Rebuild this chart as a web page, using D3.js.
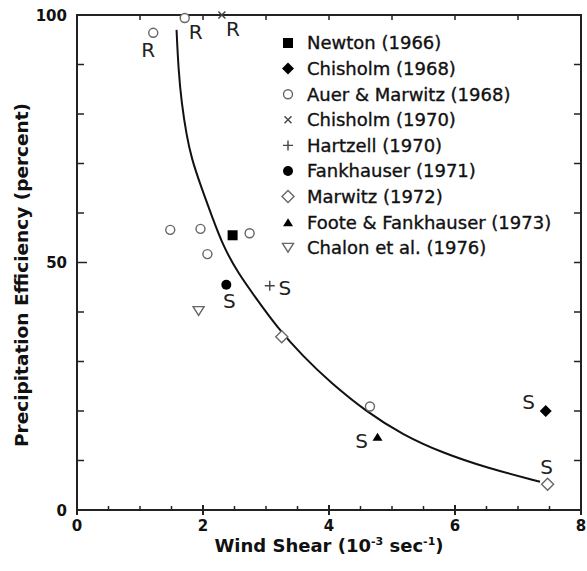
<!DOCTYPE html>
<html>
<head>
<meta charset="utf-8">
<script src="https://cdn.jsdelivr.net/npm/d3@7"></script>
<style>
  body { margin: 0; background: #fff; }
  svg { display: block; font-family: "DejaVu Sans", sans-serif; }
</style>
</head>
<body>
<div id="chart"></div>
<script>
// data (x = wind shear, y = efficiency %)
var studies = ["Newton (1966)", "Chisholm (1968)", "Auer & Marwitz (1968)", "Chisholm (1970)",
  "Hartzell (1970)", "Fankhauser (1971)", "Marwitz (1972)", "Foote & Fankhauser (1973)", "Chalon et al. (1976)"];

var newton = [[2.47, 55.5]];
var chisholm68 = [[7.44, 20.0]];
var auerMarwitz = [[1.21, 96.4], [1.71, 99.4], [1.48, 56.6], [1.96, 56.8], [2.07, 51.7], [2.74, 55.9], [4.65, 20.9]];
var chisholm70 = [[2.3, 100]];
var hartzell = [[3.06, 45.3]];
var fankhauser = [[2.37, 45.5]];
var marwitz = [[3.25, 35.0], [7.47, 5.2]];
var footeFankhauser = [[4.77, 14.8]];
var chalon = [[1.93, 40.2]];

var seriesPoints = [newton, chisholm68, auerMarwitz, chisholm70, hartzell, fankhauser, marwitz, footeFankhauser, chalon];

// fitted curve
var curveX = [1.58, 1.61, 1.66, 1.74, 1.82, 1.95, 2.14, 2.32, 2.56, 2.83, 3.17, 3.59, 4.02, 4.60, 5.17, 5.81, 6.51, 7.35];
var curveY = [97.0, 89.0, 82.2, 75.6, 71.0, 66.0, 59.4, 53.3, 47.8, 43.0, 37.0, 31.0, 25.8, 19.8, 15.2, 11.5, 8.5, 5.7];

// R / S notes next to some points
var noteText = ["R", "R", "R", "S", "S", "S", "S", "S"];
var noteX = [1.21, 1.71, 2.3, 2.37, 3.06, 4.77, 7.44, 7.47];
var noteY = [96.4, 99.4, 100, 45.5, 45.3, 14.8, 20.0, 5.2];
var noteSide = ["belowLeft", "belowRight", "belowRight", "below", "right", "left", "aboveLeft", "above"];

var xTicks = [0, 2, 4, 6, 8];
var yTicks = [0, 50, 100];

var width = 587, height = 571;
var svg = d3.select("#chart").append("svg")
  .attr("width", width)
  .attr("height", height);

var x = d3.scaleLinear().domain([0, 8]).range([77, 581]);
var y = d3.scaleLinear().domain([0, 100]).range([510, 15]);

// custom marker shapes (size = half width in px)
var squareSym = { draw: function(c, r) { c.rect(-r, -r, 2 * r, 2 * r); } };
var diamondSym = { draw: function(c, r) { c.moveTo(0, -r); c.lineTo(r, 0); c.lineTo(0, r); c.lineTo(-r, 0); c.closePath(); } };
var circleSym = { draw: function(c, r) { c.moveTo(r, 0); c.arc(0, 0, r, 0, 2 * Math.PI); } };
var plusSym = { draw: function(c, r) { c.moveTo(-r, 0); c.lineTo(r, 0); c.moveTo(0, -r); c.lineTo(0, r); } };
var crossSym = { draw: function(c, r) { c.moveTo(-r, -r); c.lineTo(r, r); c.moveTo(-r, r); c.lineTo(r, -r); } };
var triUpSym = { draw: function(c, r) { c.moveTo(0, -r * 0.8); c.lineTo(r, r * 0.8); c.lineTo(-r, r * 0.8); c.closePath(); } };
var triDownSym = { draw: function(c, r) { c.moveTo(-r, -r * 0.8); c.lineTo(r, -r * 0.8); c.lineTo(0, r * 0.8); c.closePath(); } };

var markers = [
  { type: squareSym, r: 5, fill: "#000", stroke: "none" },
  { type: diamondSym, r: 6, fill: "#000", stroke: "none" },
  { type: circleSym, r: 4.5, fill: "#fff", stroke: "#666" },
  { type: crossSym, r: 3.5, fill: "none", stroke: "#444" },
  { type: plusSym, r: 5, fill: "none", stroke: "#444" },
  { type: circleSym, r: 5, fill: "#000", stroke: "none" },
  { type: diamondSym, r: 6, fill: "#fff", stroke: "#666" },
  { type: triUpSym, r: 5, fill: "#000", stroke: "none" },
  { type: triDownSym, r: 5.5, fill: "#fff", stroke: "#666" }
];

function drawMarker(sel, m) {
  sel.attr("d", d3.symbol().type(m.type).size(m.r))
    .attr("fill", m.fill)
    .attr("stroke", m.stroke)
    .attr("stroke-width", 1.4);
}

// frame
var frame = svg.append("g").attr("stroke", "#222").attr("stroke-width", 2);
frame.append("rect")
  .attr("x", x(0)).attr("y", y(100))
  .attr("width", x(8) - x(0)).attr("height", y(0) - y(100))
  .attr("fill", "none");

// bottom ticks: majors cross the axis, minors point in
var ticksG = svg.append("g").attr("stroke", "#222").attr("stroke-width", 1.5);
ticksG.selectAll(".xmaj").data(xTicks).join("line")
  .attr("x1", d => x(d)).attr("x2", d => x(d))
  .attr("y1", y(0) - 5).attr("y2", y(0) + 5).attr("stroke-width", 2);
ticksG.selectAll(".xmin").data(d3.range(0.5, 8, 0.5).filter(d => d % 2 !== 0)).join("line")
  .attr("x1", d => x(d)).attr("x2", d => x(d))
  .attr("y1", y(0) - 4).attr("y2", y(0));
// top ticks every unit
ticksG.selectAll(".xtop").data(d3.range(1, 8)).join("line")
  .attr("x1", d => x(d)).attr("x2", d => x(d))
  .attr("y1", y(100)).attr("y2", y(100) + 5);
// left ticks
ticksG.selectAll(".ylft").data(d3.range(10, 100, 10)).join("line")
  .attr("x1", x(0)).attr("x2", d => x(0) + (d === 50 ? 10 : 7))
  .attr("y1", d => y(d)).attr("y2", d => y(d));
// right ticks
ticksG.selectAll(".yrgt").data(d3.range(10, 100, 10)).join("line")
  .attr("x1", x(8)).attr("x2", x(8) - 7)
  .attr("y1", d => y(d)).attr("y2", d => y(d));

// tick labels
svg.append("g").selectAll("text").data(xTicks).join("text")
  .attr("x", d => x(d)).attr("y", 531)
  .attr("text-anchor", "middle")
  .attr("font-size", 15).attr("font-weight", "bold").attr("fill", "#111")
  .text(d => d);
svg.append("g").selectAll("text").data(yTicks).join("text")
  .attr("x", 67).attr("y", d => y(d) + 5.5)
  .attr("text-anchor", "end")
  .attr("font-size", 15).attr("font-weight", "bold").attr("fill", "#111")
  .text(d => d);

// axis titles
var xt = svg.append("text")
  .attr("x", x(4)).attr("y", 552)
  .attr("text-anchor", "middle")
  .attr("font-size", 18).attr("font-weight", "bold").attr("fill", "#111");
xt.append("tspan").text("Wind Shear (10");
xt.append("tspan").attr("dy", -7).attr("font-size", 11).text("-3");
xt.append("tspan").attr("dy", 7).text(" sec");
xt.append("tspan").attr("dy", -7).attr("font-size", 11).text("-1");
xt.append("tspan").attr("dy", 7).text(")");

svg.append("text")
  .attr("transform", "translate(28," + 275 + ") rotate(-90)")
  .attr("text-anchor", "middle")
  .attr("font-size", 18.5).attr("font-weight", "bold").attr("fill", "#111")
  .text("Precipitation Efficiency (percent)");

// curve
var line = d3.line()
  .x(d => x(d[0])).y(d => y(d[1]))
  .curve(d3.curveBasis);
svg.append("path")
  .datum(d3.zip(curveX, curveY))
  .attr("d", line)
  .attr("fill", "none")
  .attr("stroke", "#111")
  .attr("stroke-width", 2);

// points
seriesPoints.forEach(function(pts, i) {
  svg.append("g").selectAll("path").data(pts).join("path")
    .attr("transform", d => "translate(" + x(d[0]) + "," + y(d[1]) + ")")
    .call(drawMarker, markers[i]);
});

// R / S notes
var sideOffset = {
  belowLeft: [-5, 17], belowRight: [11, 14], below: [3, 16],
  right: [15, 2], left: [-16, 4], aboveLeft: [-17, -9], above: [-1, -17]
};
svg.append("g").selectAll("text").data(d3.range(noteText.length)).join("text")
  .attr("x", i => x(noteX[i]) + sideOffset[noteSide[i]][0])
  .attr("y", i => y(noteY[i]) + sideOffset[noteSide[i]][1])
  .attr("dy", "0.36em")
  .attr("text-anchor", "middle")
  .attr("font-size", 20).attr("fill", "#222")
  .text(i => noteText[i]);

// legend
var legend = svg.append("g").attr("transform", "translate(288,43)");
var rows = legend.selectAll("g").data(studies).join("g")
  .attr("transform", (d, i) => "translate(0," + i * 25.6 + ")");
rows.append("path").each(function(d, i) { d3.select(this).call(drawMarker, markers[i]); });
rows.append("text")
  .attr("x", 19).attr("dy", "0.36em")
  .attr("font-size", 18).attr("fill", "#111")
  .attr("stroke", "#111").attr("stroke-width", 0.35)
  .text(d => d);
</script>
</body>
</html>
